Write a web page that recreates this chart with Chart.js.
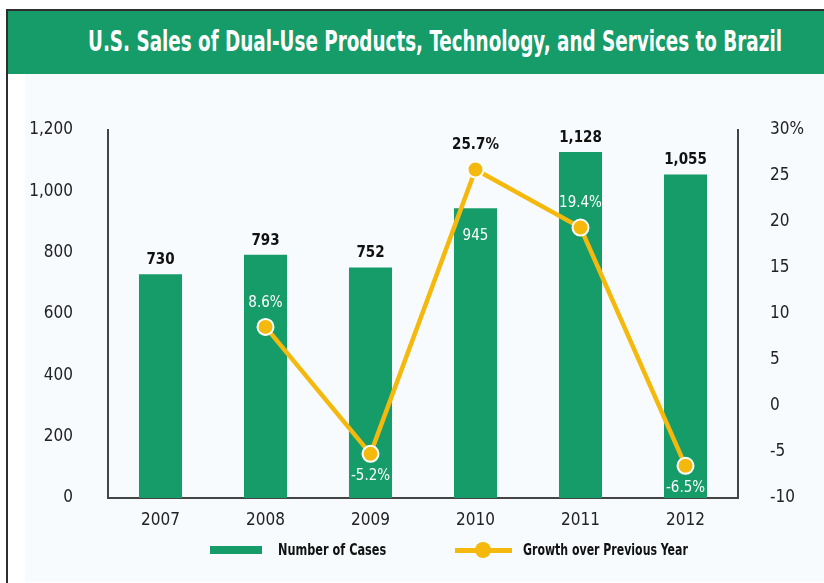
<!DOCTYPE html>
<html>
<head>
<meta charset="utf-8">
<title>U.S. Sales of Dual-Use Products, Technology, and Services to Brazil</title>
<script src="https://cdn.jsdelivr.net/npm/chart.js@4.4.1/dist/chart.umd.min.js"></script>
<style>
  html, body { margin: 0; padding: 0; background: #fff; }
  body { width: 824px; height: 583px; position: relative; overflow: hidden;
         font-family: "Liberation Sans Narrow", "DejaVu Sans Condensed", "Roboto Condensed", Roboto, sans-serif; }
  .frame { position: absolute; left: 6px; top: 9px; width: 818px; height: 574px;
           border-left: 2px solid #2e2e2e; border-top: 2px solid #2e2e2e; }
  .header { position: absolute; left: 8px; top: 11px; width: 816px; height: 63px; background: #159c69; }
  .header h1 { position: absolute; left: 80px; top: 14px; margin: 0; white-space: nowrap;
               font-size: 28px; font-weight: bold; color: #fff; transform-origin: 0 0; letter-spacing: 0; }
  .panel { position: absolute; left: 25px; top: 74px; width: 799px; height: 508px; background: #f7fbfd; }
  #chart { position: absolute; left: 25px; top: 74px; }
  .legend { position: absolute; top: 540px; left: 0; width: 824px; height: 20px; }
  .legend .item { position: absolute; top: 0; height: 20px; }
  .legend .label { position: absolute; top: 1px; white-space: nowrap; font-size: 15px; font-weight: bold;
                   color: #111; transform-origin: 0 50%; }
  .legend .bar { position: absolute; top: 6px; width: 52px; height: 8px; background: #159c69; }
  .legend .line { position: absolute; top: 8px; width: 57px; height: 5px; background: #f5b90d; }
  .legend .dot { position: absolute; top: 2px; left: 20px; width: 16px; height: 16px; border-radius: 50%; background: #f5b90d; }
</style>
</head>
<body>
<div class="frame"></div>
<div class="header"><h1 id="title">U.S. Sales of Dual-Use Products, Technology, and Services to Brazil</h1></div>
<div class="panel"></div>
<canvas id="chart" width="799" height="509"></canvas>
<div class="legend" id="legend"></div>

<script>
const years = ['2007', '2008', '2009', '2010', '2011', '2012'];
const cases = [730, 793, 752, 945, 1128, 1055];
const growth = [null, 8.6, -5.2, 25.7, 19.4, -6.5];

const casesTicks = [0, 200, 400, 600, 800, 1000, 1200];
const growthTicks = [-10, -5, 0, 5, 10, 15, 20, 25, 30];

// the 2010 count sits under the growth line, so it is written inside its bar
const casesLabelInside = [false, false, false, true, false, false];

const GREEN = '#159c69';
const YELLOW = '#f5b90d';
const FONT = '"Liberation Sans Narrow", "DejaVu Sans Condensed", "Roboto Condensed", Roboto, sans-serif';

// squeeze the heading to the width of the banner text
const title = document.getElementById('title');
title.style.transform = 'scaleX(' + (694 / title.offsetWidth) + ')';
title.style.left = '80px';

const valueLabels = {
  id: 'valueLabels',
  afterDatasetsDraw(chart) {
    const { ctx } = chart;
    const bars = chart.getDatasetMeta(0).data;
    const points = chart.getDatasetMeta(1).data;
    ctx.save();
    ctx.textAlign = 'center';
    ctx.textBaseline = 'middle';

    bars.forEach((bar, i) => {
      const inside = casesLabelInside[i];
      ctx.font = (inside ? '' : 'bold ') + '15px ' + FONT;
      ctx.fillStyle = inside ? '#fff' : '#111';
      ctx.fillText(cases[i].toLocaleString('en-US'), bar.x, inside ? bar.y + 28 : bar.y - 14);
    });

    points.forEach((pt, i) => {
      if (growth[i] === null) return;
      const y = growth[i] < 0 ? pt.y + 22 : pt.y - 24;
      const onBar = y > bars[i].y;
      ctx.font = (onBar ? '' : 'bold ') + '15px ' + FONT;
      ctx.fillStyle = onBar ? '#fff' : '#111';
      ctx.fillText(growth[i].toFixed(1) + '%', pt.x, y);
    });
    ctx.restore();
  }
};

const tickFont = { family: FONT, size: 17 };

const chart = new Chart(document.getElementById('chart'), {
  data: {
    labels: years,
    datasets: [
      {
        type: 'bar',
        label: 'Number of Cases',
        data: cases,
        yAxisID: 'y',
        backgroundColor: GREEN,
        categoryPercentage: 0.41,
        barPercentage: 1,
        order: 1
      },
      {
        type: 'line',
        label: 'Growth over Previous Year',
        data: growth,
        yAxisID: 'y1',
        borderColor: YELLOW,
        borderWidth: 4.5,
        tension: 0,
        pointRadius: 8,
        pointBackgroundColor: YELLOW,
        pointBorderColor: '#fff',
        pointBorderWidth: 2,
        order: 0
      }
    ]
  },
  options: {
    responsive: false,
    animation: false,
    layout: { padding: { top: 56, bottom: 55, left: 0, right: 0 } },
    plugins: {
      legend: { display: false },
      tooltip: { enabled: false }
    },
    scales: {
      x: {
        grid: { display: false, drawTicks: false },
        border: { display: true, color: '#444', width: 2 },
        ticks: { font: tickFont, color: '#222', padding: 12 },
        afterFit: s => { s.height = 30; }
      },
      y: {
        position: 'left',
        min: casesTicks[0],
        max: casesTicks[casesTicks.length - 1],
        grid: { display: false, drawTicks: false },
        border: { display: true, color: '#444', width: 2 },
        afterBuildTicks: s => { s.ticks = casesTicks.map(v => ({ value: v })); },
        ticks: {
          font: tickFont, color: '#222', padding: 35,
          callback: v => v.toLocaleString('en-US')
        },
        afterFit: s => { s.width = 83; }
      },
      y1: {
        position: 'right',
        min: growthTicks[0],
        max: growthTicks[growthTicks.length - 1],
        grid: { display: false, drawTicks: false },
        border: { display: true, color: '#444', width: 2 },
        afterBuildTicks: s => { s.ticks = growthTicks.map(v => ({ value: v })); },
        ticks: {
          font: tickFont, color: '#222', padding: 32,
          callback: v => v === growthTicks[growthTicks.length - 1] ? v + '%' : v
        },
        afterFit: s => { s.width = 86; }
      }
    }
  },
  plugins: [valueLabels]
});

// legend under the axis, built from the dataset labels
const legend = document.getElementById('legend');
const legendSpots = [
  { left: 210, text: 278, width: 108, kind: 'bar' },
  { left: 455, text: 523, width: 165, kind: 'line' }
];
chart.data.datasets.forEach((ds, i) => {
  const spot = legendSpots[i];
  const marker = document.createElement('div');
  marker.className = 'item';
  marker.style.left = spot.left + 'px';
  marker.innerHTML = spot.kind === 'bar'
    ? '<div class="bar"></div>'
    : '<div class="line"></div><div class="dot"></div>';
  legend.appendChild(marker);

  const label = document.createElement('div');
  label.className = 'label';
  label.style.left = spot.text + 'px';
  label.textContent = ds.label;
  legend.appendChild(label);
  label.style.transform = 'scaleX(' + Math.min(1, spot.width / label.offsetWidth) + ')';
});
</script>
</body>
</html>
